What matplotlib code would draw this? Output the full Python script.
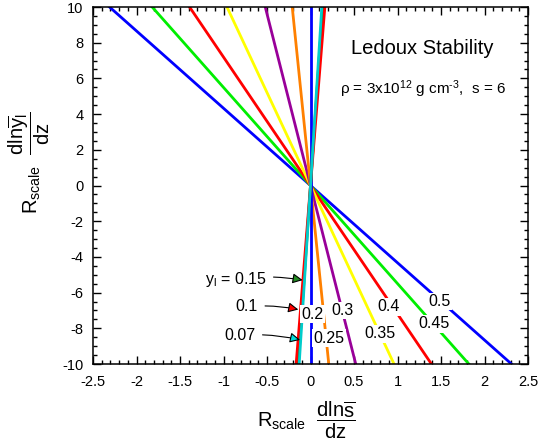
import matplotlib
matplotlib.use('Agg')
import matplotlib.pyplot as plt
import numpy as np
from matplotlib.ticker import MultipleLocator

plt.rcParams['font.family'] = ['Liberation Sans', 'DejaVu Sans']
plt.rcParams['mathtext.fontset'] = 'custom'
plt.rcParams['mathtext.rm'] = 'Liberation Sans'
plt.rcParams['mathtext.it'] = 'Liberation Sans'
plt.rcParams['mathtext.bf'] = 'Liberation Sans:bold'
plt.rcParams['axes.unicode_minus'] = False

# each line goes through the origin; value = x where the line meets y = -10
yl_values = ['0.5', '0.45', '0.4', '0.35', '0.3', '0.25', '0.2', '0.15', '0.1', '0.07']
x_at_bottom = [2.31, 1.82, 1.39, 0.96, 0.52, 0.21, 0.0, -0.14, -0.165, -0.13]
line_colors = ['#0000ff', '#00ee00', '#ff0000', '#ffff00', '#990099',
               '#ff8000', '#0000ff', '#008800', '#ff0000', '#00cccc']

# labels written on the lines
label_text = ['0.5', '0.45', '0.4', '0.35', '0.3', '0.25', '0.2']
label_x = [1.48, 1.42, 0.90, 0.80, 0.37, 0.21, 0.02]
label_y = [-6.5, -7.75, -6.8, -8.3, -7.0, -8.55, -7.2]

# labels with arrows for the small y_l
arrow_text = [r'$\mathregular{y_l}$ = 0.15', '0.1', '0.07']
arrow_text_x = [-0.86, -0.73, -0.81]
arrow_text_y = [-5.25, -6.8, -8.4]
arrow_tip_x = [-0.09, -0.14, -0.12]
arrow_tip_y = [-5.3, -6.95, -8.65]
arrow_colors = ['#228b22', '#ff0000', '#00dddd']

xticks = [-2.5, -2, -1.5, -1, -0.5, 0, 0.5, 1, 1.5, 2, 2.5]
xtick_labels = ['-2.5', '-2', '-1.5', '-1', '-0.5', '0', '0.5', '1', '1.5', '2', '2.5']
yticks = [-10, -8, -6, -4, -2, 0, 2, 4, 6, 8, 10]

fig = plt.figure(figsize=(5.4, 4.44), dpi=100)
ax = fig.add_axes([93 / 540, 1 - 364 / 444, 435 / 540, 357 / 444])

yy = np.array([10.0, -10.0])
for a, c in zip(x_at_bottom, line_colors):
    ax.plot(-a * yy / 10.0, yy, color=c, lw=2, zorder=2)

for t, x, y in zip(label_text, label_x, label_y):
    ax.text(x, y, t, fontsize=11.5, ha='center', va='center', zorder=4,
            bbox=dict(facecolor='white', edgecolor='none', pad=1.0))

for t, tx, ty, px, py, c in zip(arrow_text, arrow_text_x, arrow_text_y,
                                 arrow_tip_x, arrow_tip_y, arrow_colors):
    ax.annotate(t, xy=(px, py), xytext=(tx, ty), fontsize=11.5,
                ha='center', va='center', zorder=5,
                arrowprops=dict(arrowstyle='-|>', fc=c, ec='black', lw=0.8,
                                mutation_scale=15, shrinkA=3, shrinkB=0,
                                connectionstyle='arc3,rad=-0.08'))

ax.text(1.29, 7.65, 'Ledoux Stability', fontsize=14.5, ha='center', va='center')
ax.text(1.29, 5.4, r'$\mathregular{\rho}$ = 3x10$^{\mathregular{12}}$ g cm$^{\text{-3}}$,  s = 6',
        fontsize=11, ha='center', va='center')

ax.set_xlim(-2.5, 2.5)
ax.set_ylim(-10, 10)
ax.set_xticks(xticks)
ax.set_xticklabels(xtick_labels)
ax.set_yticks(yticks)
ax.xaxis.set_minor_locator(MultipleLocator(0.1))
ax.yaxis.set_minor_locator(MultipleLocator(0.5))
ax.tick_params(which='both', direction='in', top=True, right=True, width=1)
ax.tick_params(which='major', length=5.5, labelsize=10.5)
ax.tick_params(axis='x', which='major', pad=8)
ax.tick_params(axis='y', which='major', pad=7)
ax.tick_params(which='minor', length=3)
for s in ax.spines.values():
    s.set_linewidth(1.1)

ax.set_xlabel(r'$\mathregular{R_{scale}}\ \ \dfrac{\mathregular{dln\overline{s}}}{\mathregular{dz}}$',
              fontsize=14.5)
ax.xaxis.set_label_coords(0.49, -0.157)
ax.xaxis.label.set_va('center')
ax.set_ylabel(r'$\mathregular{R_{scale}}\ \ \dfrac{\mathregular{dln\overline{y}_l}}{\mathregular{dz}}$',
              fontsize=14.5)
ax.yaxis.set_label_coords(-0.147, 0.563)
ax.yaxis.label.set_va('center')

fig.savefig('out.png', dpi=100)
